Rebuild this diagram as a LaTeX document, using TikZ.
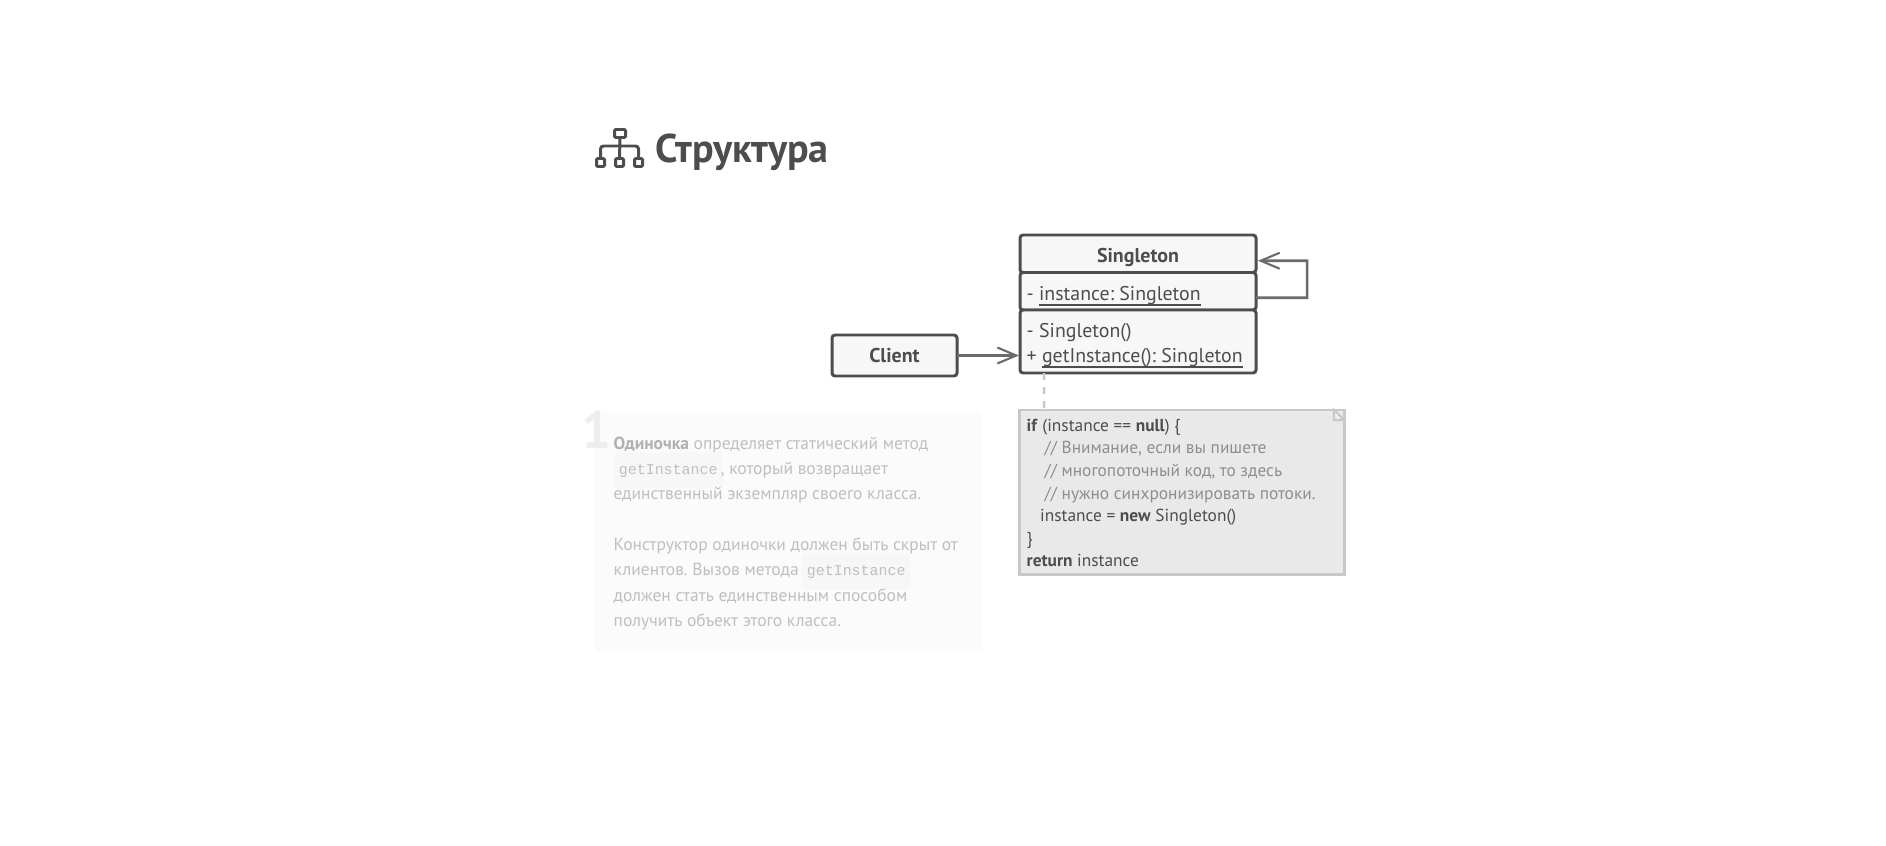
\documentclass[tikz,border=0pt]{standalone}
\usepackage{fontspec}
\setmainfont{PT Sans}
\setmonofont{Liberation Mono}
\usepackage{tikz}
\usetikzlibrary{arrows.meta,shapes.misc,positioning}

\definecolor{inkdark}{HTML}{4D4D4D}
\definecolor{arrowgrey}{HTML}{6B6B6B}
\definecolor{boxfill}{HTML}{F7F7F7}
\definecolor{notefill}{HTML}{E9E9E9}
\definecolor{noteline}{HTML}{C8C8C8}
\definecolor{foldfill}{HTML}{F1F1F1}
\definecolor{commentgrey}{HTML}{8E8E8E}
\definecolor{panelfill}{HTML}{FBFBFB}
\definecolor{paneltext}{HTML}{BFBFBF}
\definecolor{panelbold}{HTML}{B0B0B0}
\definecolor{panelnum}{HTML}{EEEEEE}
\definecolor{codefill}{HTML}{F7F7F7}

\newcommand{\umlunder}[1]{\underline{\smash{#1}}}

\tikzset{
	umlbox/.style={draw=inkdark,fill=boxfill,line width=0.85pt,rounded corners=0.03cm,
		inner sep=0pt,outer sep=0pt,text=inkdark,minimum width=2.36cm},
	umlname/.style={font=\fontsize{5.68}{7}\selectfont\bfseries,text depth=0cm},
	umltext/.style={anchor=base west,inner sep=0pt,text=inkdark,font=\fontsize{5.65}{7}\selectfont\frenchspacing},
	iconbox/.style={draw=inkdark,line width=0.85pt,rounded corners=0.012cm,inner sep=0pt,
		minimum width=0.08cm,minimum height=0.08cm},
	usearrow/.style={draw=arrowgrey,line width=0.72pt,-{Straight Barb[length=0.19cm,width=0.16cm,line width=0.6pt]}},
	notebox/.style={chamfered rectangle,chamfered rectangle corners=north east,
		chamfered rectangle xsep=0.1cm,chamfered rectangle ysep=0.1cm,draw=noteline,fill=notefill,
		line width=0.85pt,inner sep=0pt,outer sep=0pt,minimum width=3.25cm,minimum height=1.64cm},
	notetext/.style={anchor=base west,inner sep=0pt,text=inkdark,font=\fontsize{4.94}{6}\selectfont\frenchspacing},
	comment/.style={notetext,text=commentgrey},
	paneltxt/.style={anchor=base west,inner sep=0pt,text=paneltext,font=\fontsize{4.97}{6}\selectfont\frenchspacing},
	codechip/.style={anchor=base west,fill=codefill,rounded corners=0.03cm,text=paneltext,
		inner xsep=0.02cm,font=\ttfamily\fontsize{4.25}{6}\selectfont,minimum width=1.09cm,
		minimum height=0.25cm,text depth=0.03cm},
}

\begin{document}
\begin{tikzpicture}

	\useasboundingbox (0,0) rectangle (18.86,8.45);

	\node[iconbox,minimum width=0.11cm] (icontop) at (6.2,7.115) {};
	\node[iconbox] (iconleft) at (6.005,6.825) {};
	\node[iconbox] (iconmid) at (6.195,6.825) {};
	\node[iconbox] (iconright) at (6.385,6.825) {};
	\coordinate (iconhub) at (6.195,6.99);
	\draw[inkdark,line width=0.85pt] (icontop) -- (iconmid);
	\draw[inkdark,line width=0.85pt,rounded corners=0.03cm] (iconleft.north) |- (iconhub) -| (iconright.north);
	\node[anchor=base west,inner sep=0pt,text=inkdark,font=\fontsize{11.4}{12}\selectfont\bfseries] (heading) at (6.55,6.83) {Структура};

	\node[umlbox,umlname,minimum height=0.375cm,text height=0.165cm,anchor=north west] (single) at (10.2,6.1) {Singleton};
	\node[umlbox,minimum height=0.375cm,below=0pt of single] (fields) {};
	\node[umlbox,minimum height=0.63cm,below=0pt of fields] (methods) {};
	\node[umltext] (fieldtext) at (10.26,5.45) {- \umlunder{instance: Singleton}};
	\node[umltext] (ctortext) at (10.26,5.08) {- Singleton()};
	\node[umltext] (gettext) at (10.26,4.83) {+ \umlunder{getInstance(): Singleton}};

	\node[umlbox,umlname,minimum width=1.25cm,minimum height=0.41cm,text height=0.13cm] (client) at (8.945,4.895) {Client};
	\draw[usearrow] (client) -- ([xshift=-0.01cm]methods.west |- client);

	\coordinate (selfcorner) at (13.07,5.8425);
	\draw[usearrow] ([yshift=-0.065cm]fields.east) -| (selfcorner) -- ([xshift=0.02cm,yshift=-0.07cm]single.east);

	\node[notebox,anchor=north west] (note) at (10.19,4.35) {};
	\draw[noteline,fill=foldfill,line width=0.6pt] ([xshift=-0.1cm]note.east |- note.north) |- ([yshift=-0.1cm]note.east |- note.north) -- cycle;
	\draw[noteline,line width=0.72pt,dash pattern=on 0.07cm off 0.07cm] ([xshift=0.24cm]methods.south west) -- ([xshift=0.25cm]note.north west);

	\node[notetext] (code1) at (10.26,4.14) {\textbf{if} (instance == \textbf{null}) \{};
	\node[comment] (code2) at (10.44,3.915) {// Внимание, если вы пишете};
	\node[comment] (code3) at (10.44,3.69) {// многопоточный код, то здесь};
	\node[comment] (code4) at (10.44,3.46) {// нужно синхронизировать потоки.};
	\node[notetext] (code5) at (10.395,3.235) {instance = \textbf{new} Singleton()};
	\node[notetext] (code6) at (10.26,3.01) {\}};
	\node[notetext] (code7) at (10.26,2.785) {\textbf{return} instance};

	\node[fill=panelfill,inner sep=0pt,minimum width=3.87cm,minimum height=2.39cm,anchor=north west] (panel) at (5.94,4.34) {};
	\node[anchor=base west,inner sep=0pt,text=panelnum,font=\fontsize{15}{16}\selectfont\bfseries] (num) at (5.81,3.97) {1};

	\node[paneltxt] (line1) at (6.13,3.96) {\textcolor{panelbold}{\textbf{Одиночка}} определяет статический метод};
	\node[codechip] (chip1) at (6.13,3.71) {getInstance};
	\node[paneltxt] (line2) at (7.2,3.71) {, который возвращает};
	\node[paneltxt] (line3) at (6.13,3.455) {единственный экземпляр своего класса.};
	\node[paneltxt] (line4) at (6.13,2.95) {Конструктор одиночки должен быть скрыт от};
	\node[paneltxt] (line5) at (6.13,2.7) {клиентов. Вызов метода};
	\node[codechip] (chip2) at (8.01,2.7) {getInstance};
	\node[paneltxt] (line6) at (6.13,2.44) {должен стать единственным способом};
	\node[paneltxt] (line7) at (6.13,2.19) {получить объект этого класса.};

\end{tikzpicture}
\end{document}
